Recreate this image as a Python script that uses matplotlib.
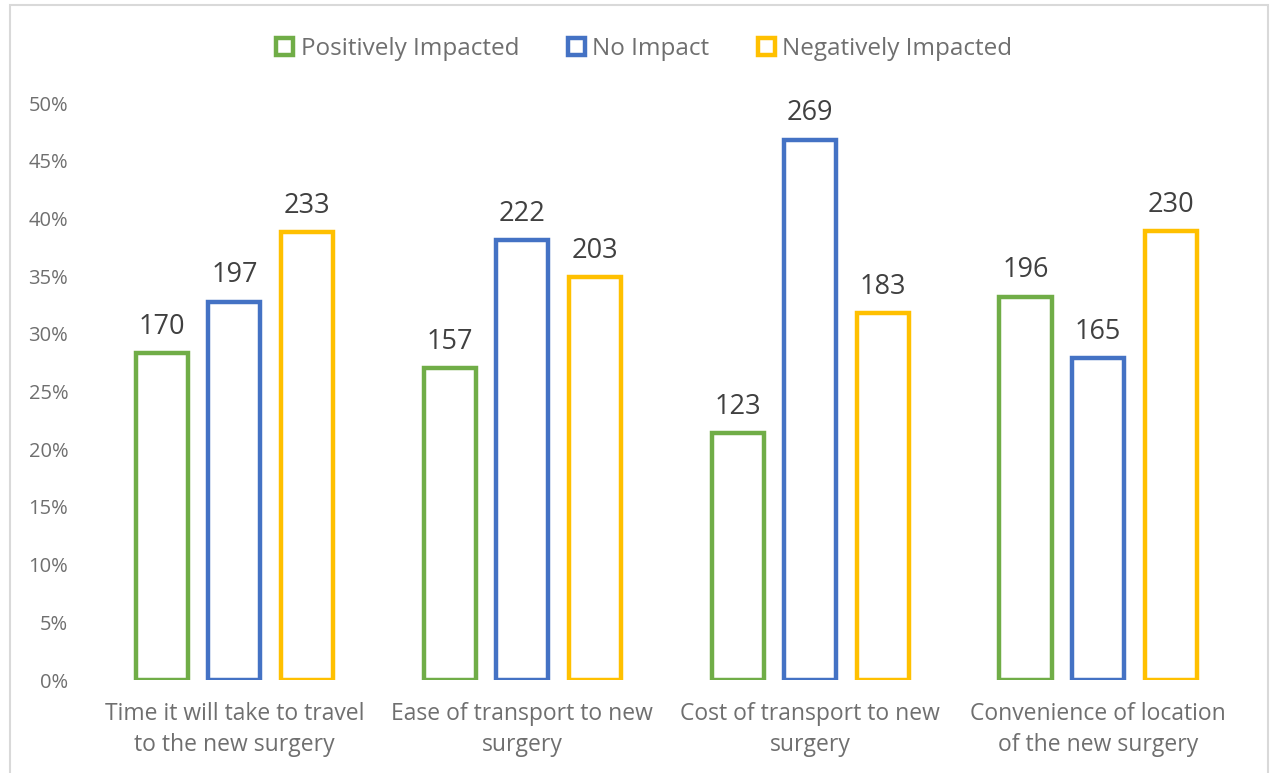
import matplotlib.pyplot as plt
from matplotlib.patches import Patch
from matplotlib.ticker import PercentFormatter
import numpy as np

plt.rcParams['font.family'] = ['Open Sans', 'DejaVu Sans']

categories = ['Time it will take to travel\nto the new surgery',
              'Ease of transport to new\nsurgery',
              'Cost of transport to new\nsurgery',
              'Convenience of location\nof the new surgery']
series = ['Positively Impacted', 'No Impact', 'Negatively Impacted']
colors = ['#70ad47', '#4472c4', '#ffc000']

# bar heights (% of responses) and the counts shown above each bar
positive_pct = [28.3, 27.0, 21.4, 33.2]
no_impact_pct = [32.8, 38.1, 46.8, 27.9]
negative_pct = [38.8, 34.9, 31.8, 38.9]
positive_n = [170, 157, 123, 196]
no_impact_n = [197, 222, 269, 165]
negative_n = [233, 203, 183, 230]

pcts = [positive_pct, no_impact_pct, negative_pct]
counts = [positive_n, no_impact_n, negative_n]

fig = plt.figure(figsize=(12.71, 7.73), dpi=100)
ax = fig.add_axes([0.0712, 0.1203, 0.906, 0.7464])

x = np.arange(len(categories))
step = 0.252
width = 0.181
for i in range(3):
    pos = x + (i - 1) * step
    bars = ax.bar(pos, pcts[i], width, facecolor='white', edgecolor=colors[i], linewidth=3.2)
    for b, n in zip(bars, counts[i]):
        ax.annotate(str(n), (b.get_x() + b.get_width() / 2, b.get_height()),
                    xytext=(0, 9), textcoords='offset points', ha='center', va='bottom',
                    fontsize=19.5, color='#404040')

ax.set_xlim(-0.5, 3.5)
ax.set_ylim(0, 50)
ax.set_yticks(np.arange(0, 51, 5))
ax.yaxis.set_major_formatter(PercentFormatter(decimals=0))
ax.set_xticks(x)
ax.set_xticklabels(categories, fontsize=16.5, color='#6f6f6f', linespacing=1.36)
ax.tick_params(axis='y', labelsize=14.5, colors='#6f6f6f', length=0, pad=16)
ax.tick_params(axis='x', length=0, pad=16)
for s in ax.spines.values():
    s.set_visible(False)

handles = [Patch(facecolor='white', edgecolor=c, linewidth=3.2) for c in colors]
fig.legend(handles, series, loc='center', bbox_to_anchor=(0.507, 0.937), ncol=3, frameon=False,
           fontsize=17.5, labelcolor='#6f6f6f', handlelength=0.7, handleheight=0.7,
           handletextpad=0.3, columnspacing=2.0)

fig.add_artist(plt.Rectangle((0.008, -0.01), 0.99, 1.003, transform=fig.transFigure,
                             fill=False, edgecolor='#d9d9d9', linewidth=1.5))

fig.savefig('out.png', dpi=100)
